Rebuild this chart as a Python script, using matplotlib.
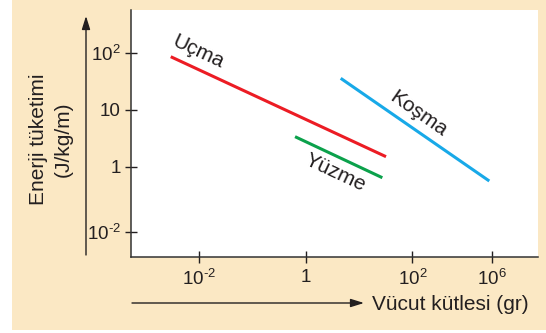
import matplotlib
matplotlib.use('Agg')
import matplotlib.pyplot as plt
from matplotlib.patches import Rectangle

plt.rcParams['font.family'] = ['Liberation Sans', 'DejaVu Sans']
plt.rcParams['mathtext.fontset'] = 'custom'
plt.rcParams['mathtext.rm'] = 'Liberation Sans'
plt.rcParams['mathtext.it'] = 'Liberation Sans:italic'
plt.rcParams['mathtext.bf'] = 'Liberation Sans:bold'

# ---- data (schematic decade units, as drawn) ----
x_tick_pos = [-2, 0, 2, 3.49]
x_tick_labels = ['$\\mathregular{10^{\u20102}}$', '1', r'$\mathregular{10^{2}}$', r'$\mathregular{10^{6}}$']
y_tick_pos = [-1.14, 0, 1, 2]
y_tick_labels = ['$\\mathregular{10^{\u20102}}$', '1', '10', r'$\mathregular{10^{2}}$']

ucma_x = [-2.53, 1.505]
ucma_y = [1.935, 0.181]
yuzme_x = [-0.20, 1.436]
yuzme_y = [0.532, -0.188]
kosma_x = [0.656, 3.441]
kosma_y = [1.556, -0.246]

series_labels = ['Uçma', 'Yüzme', 'Koşma']
label_x = [-2.02, 0.56, 2.12]
label_y = [2.01, -0.093, 0.935]
label_rot = [-25, -25, -35]

bg = '#FBE8C4'
ink = '#231F20'
red = '#EC1C24'
green = '#0BA14B'
blue = '#18A9E8'

W, H = 546, 333
fig = plt.figure(figsize=(W / 100, H / 100), dpi=100)
fig.patch.set_facecolor('white')
fig.add_artist(Rectangle((12 / W, 3 / H), 1, 1, transform=fig.transFigure,
                         facecolor=bg, edgecolor='none', zorder=-10))

ax = fig.add_axes([131 / W, 76 / H, (538 - 131) / W, (257 - 9.5) / H])
ax.set_facecolor('white')

for xs, ys, c in [(ucma_x, ucma_y, red), (yuzme_x, yuzme_y, green), (kosma_x, kosma_y, blue)]:
    ax.plot(xs, ys, color=c, lw=2.2, solid_capstyle='butt')

for name, lx, ly, r in zip(series_labels, label_x, label_y, label_rot):
    ax.text(lx, ly, name, rotation=r, rotation_mode='anchor', ha='center', va='center',
            fontsize=15, color=ink)

ax.set_xlim(-3.275, 4.354)
ax.set_ylim(-1.579, 2.763)
ax.set_xticks(x_tick_pos)
ax.set_xticklabels(x_tick_labels)
ax.set_yticks(y_tick_pos)
ax.set_yticklabels(y_tick_labels)
ax.tick_params(direction='inout', length=8.6, width=1, colors=ink, labelsize=13.5, pad=3)
ax.tick_params(axis='x', pad=4)
for s in ['top', 'right']:
    ax.spines[s].set_visible(False)
for s in ['left', 'bottom']:
    ax.spines[s].set_color('#333333')
    ax.spines[s].set_linewidth(1.1)

# axis arrows (figure pixels)
ax.annotate('', xy=(86, 317), xytext=(86, 78), xycoords='figure pixels',
            textcoords='figure pixels',
            arrowprops=dict(arrowstyle='-|>,head_length=0.8,head_width=0.25',
                            color=ink, lw=1.0, shrinkA=0, shrinkB=0))
ax.annotate('', xy=(364, 30), xytext=(132, 30), xycoords='figure pixels',
            textcoords='figure pixels',
            arrowprops=dict(arrowstyle='-|>,head_length=0.8,head_width=0.25',
                            color=ink, lw=1.0, shrinkA=0, shrinkB=0))

fig.text(372 / W, 29 / H, 'Vücut kütlesi (gr)', ha='left', va='center', fontsize=15, color=ink)
fig.text(38 / W, 194 / H, 'Enerji tüketimi', rotation=90, ha='center', va='center',
         fontsize=15, color=ink)
fig.text(63 / W, 194 / H, '(J/kg/m)', rotation=90, ha='center', va='center',
         fontsize=15, color=ink)

fig.savefig('out.png', dpi=100)
